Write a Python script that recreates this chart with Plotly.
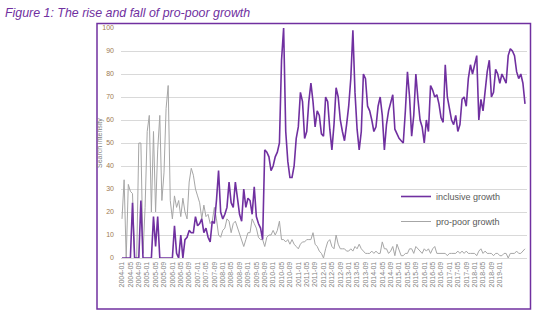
import plotly.graph_objects as go

# ---- data -------------------------------------------------------------
years = list(range(2004, 2021))
months = [f"{y}-{m:02d}" for y in years for m in range(1, 13)][:193]  # 2004-01 .. 2020-01

inclusive_growth = [
    0, 0, 0, 0, 0, 24, 0, 0, 0, 25, 0,
    0,
    0, 0, 0, 18, 5, 18, 0, 0, 0, 0, 0, 0, 0, 14, 2, 0, 10, 0,
    8,
    9, 12, 11, 11, 18, 14, 15, 17, 11, 13, 9, 7, 16, 15, 25, 38, 20, 17,
    19,
    22, 33, 24, 22, 33, 26, 19, 16, 30, 22, 26, 25, 19, 31, 18, 15, 13, 8, 47,
    46,
    44, 38, 40, 44, 46, 50, 86, 100, 55, 42, 35, 35, 40, 52, 57, 72, 68, 52, 55,
    68,
    76, 68, 57, 64, 62, 54, 53, 70, 68, 56, 47, 58, 74, 70, 60, 55, 51, 58,
    66,
    78, 99, 72, 56, 47, 55, 80, 78, 66, 64, 60, 55, 57, 66, 70, 62, 47, 58, 64,
    68,
    71, 56, 54, 52, 51, 50, 64, 81, 70, 53, 62, 80, 69, 60, 57, 50, 60, 55, 75,
    73,
    70, 71, 67, 61, 59, 84, 70, 64, 60, 58, 62, 55, 58, 69, 70, 66, 78, 84, 80,
    84,
    88, 60, 69, 64, 72, 81, 86, 70, 72, 82, 80, 76, 80, 78, 76, 88, 91, 90,
    88,
    81, 78, 80, 76, 67,
]

pro_poor_growth = [
    17, 34, 0, 32, 29, 28, 0, 0, 50, 50, 2,
    22,
    55, 62, 20, 55, 20, 47, 62, 25, 37, 65, 75, 25, 17, 27, 22, 25, 18, 26,
    20,
    17, 33, 39, 36, 30, 27, 24, 17, 23, 18, 19, 15, 16, 22, 17, 10, 9, 12,
    13,
    17, 16, 11, 15, 16, 13, 11, 8, 5, 8, 11, 11, 17, 15, 13, 9, 8, 8, 5,
    9,
    10, 10, 12, 10, 12, 16, 8, 8, 7, 8, 6, 8, 6, 5, 4, 6, 7, 7, 8,
    8,
    8, 11, 6, 5, 3, 2, 0, 4, 7, 8, 5, 4, 10, 6, 4, 4, 4, 3,
    3,
    4, 3, 5, 4, 6, 4, 3, 2, 2, 2, 3, 2, 3, 2, 2, 7, 4, 4, 2,
    3,
    5, 1, 6, 3, 1, 1, 2, 2, 4, 4, 2, 5, 4, 3, 2, 4, 3, 4, 2,
    4,
    5, 2, 2, 2, 2, 2, 1, 2, 2, 2, 2, 3, 2, 3, 2, 3, 2, 2, 2,
    2,
    1, 3, 4, 2, 3, 2, 2, 2, 1, 2, 2, 1, 1, 2, 2, 0, 2, 2,
    2,
    3, 2, 2, 3, 4,
]

tick_labels = months[0:181:4]  # 2004-01 .. 2019-01, every 4 months
y_ticks = list(range(0, 101, 10))

title_text = "Figure 1: The rise and fall of pro-poor growth"
y_title = "Search intensity"

# ---- figure -----------------------------------------------------------
PURPLE = "#7030A0"
GREY = "#A6A6A6"
FONT = "Liberation Sans, Arial, sans-serif"

W, H = 554, 324
L, R, T, B = 121, 27, 28, 66
pw, ph = W - L - R, H - T - B

def px(x):
    return (x - L) / pw

def py(y):
    return (H - B - y) / ph

fig = go.Figure()
fig.add_trace(go.Scatter(
    x=months, y=pro_poor_growth, mode="lines", name="pro-poor growth",
    line=dict(color=GREY, width=1), legendrank=2, legendgroup="b",
))
fig.add_trace(go.Scatter(
    x=months, y=inclusive_growth, mode="lines", name="inclusive growth",
    line=dict(color=PURPLE, width=1.6), legendrank=1, legendgroup="a",
))

fig.update_layout(
    width=W, height=H,
    margin=dict(l=L, r=R, t=T, b=B),
    paper_bgcolor="white", plot_bgcolor="white",
    font=dict(family=FONT, color="#595959"),
    title=dict(
        text=f"<i>{title_text}</i>",
        x=5 / W, xanchor="left", xref="container",
        y=1 - 13 / H, yanchor="middle", yref="container",
        font=dict(size=12.4, color=PURPLE, family=FONT),
    ),
    xaxis=dict(
        type="category", categoryorder="array", categoryarray=months,
        range=[-0.48, 192.95],
        tickmode="array", tickvals=tick_labels, ticktext=tick_labels,
        tickangle=-90, tickfont=dict(size=7, color="#7F7F7F"),
        showgrid=False, showline=True, linecolor="#D9D9D9", linewidth=1,
        ticks="", zeroline=False,
    ),
    yaxis=dict(
        range=[0, 100], tickmode="array", tickvals=y_ticks,
        tickfont=dict(size=7, color="#A07A50"),
        showgrid=True, gridcolor="#D9D9D9", gridwidth=1,
        zeroline=False, showline=False, ticks="",
        ticklabelstandoff=6,
    ),
    showlegend=True,
    legend=dict(
        x=px(396), y=py(182), xanchor="left", yanchor="top",
        font=dict(size=9, color="#595959", family=FONT),
        bgcolor="rgba(0,0,0,0)", tracegroupgap=6, itemwidth=30,
    ),
    annotations=[dict(
        text=y_title, textangle=-90, showarrow=False,
        xref="paper", yref="paper", x=px(100), y=0.5,
        xanchor="center", yanchor="middle",
        font=dict(size=7, color="#7F7F7F", family=FONT),
    )],
    shapes=[dict(
        type="rect", xref="paper", yref="paper",
        x0=px(97), x1=px(530.5), y0=py(309), y1=py(23.5),
        line=dict(color=PURPLE, width=1.5), layer="above",
    )],
)

fig.write_html("out.html")
